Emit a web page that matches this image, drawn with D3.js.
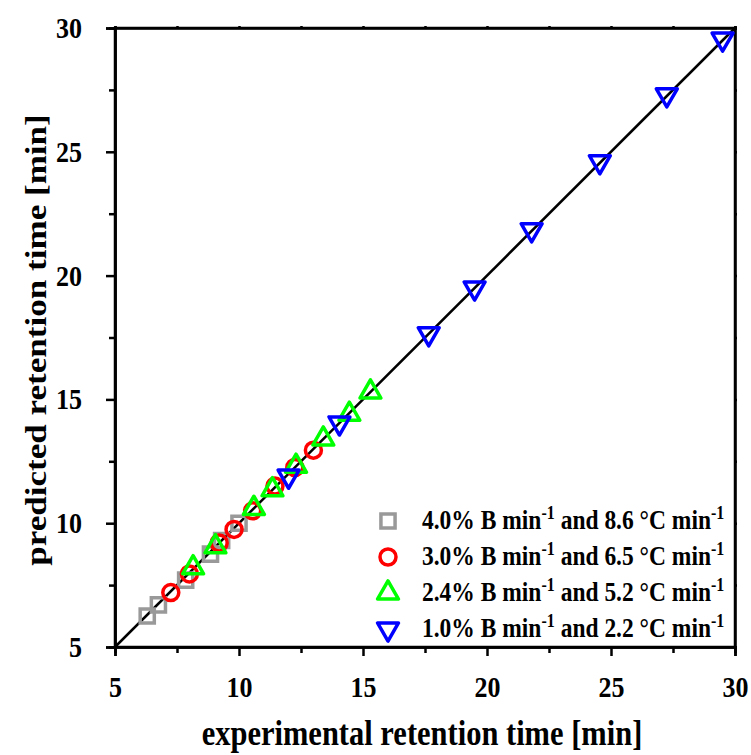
<!DOCTYPE html>
<html>
<head>
<meta charset="utf-8">
<script src="https://cdn.jsdelivr.net/npm/d3@7"></script>
<style>
  html, body { margin: 0; padding: 0; background: #fff; }
  svg text { font-family: "Liberation Serif", "Times New Roman", serif; font-weight: bold; fill: #000; }
</style>
</head>
<body>
<svg id="chart" width="751" height="755"></svg>
<script>
// Experimental vs. predicted retention times for four gradient programs
const seriesNames = [
  { rate: "4.0% B min", temp: " and 8.6 °C min" },
  { rate: "3.0% B min", temp: " and 6.5 °C min" },
  { rate: "2.4% B min", temp: " and 5.2 °C min" },
  { rate: "1.0% B min", temp: " and 2.2 °C min" }
];

const grayExp  = [6.3, 6.75, 7.85, 8.85, 9.3, 10.0];
const grayPred = [6.25, 6.7, 7.7, 8.75, 9.3, 10.0];

const redExp  = [7.25, 8.0, 9.2, 9.8, 10.55, 11.45, 12.25, 13.0];
const redPred = [7.2, 7.95, 9.2, 9.75, 10.5, 11.5, 12.25, 12.95];

const greenExp  = [8.15, 9.05, 10.6, 11.35, 12.3, 13.4, 14.45, 15.3];
const greenPred = [8.2, 9.05, 10.6, 11.35, 12.3, 13.4, 14.4, 15.3];

const blueExp  = [12.0, 14.05, 17.65, 19.5, 21.8, 24.55, 27.25, 29.5];
const bluePred = [11.9, 14.05, 17.65, 19.5, 21.85, 24.6, 27.3, 29.55];

const tickValues = [5, 10, 15, 20, 25, 30];
const minorTicks = [7.5, 12.5, 17.5, 22.5, 27.5];
const identityLine = [5, 30];

// text is drawn slightly tall (vertical stretch)
const stretch = 1.15;

const svg = d3.select("#chart");
const plotL = 115, plotR = 735, plotT = 28, plotB = 647;

const x = d3.scaleLinear().domain([5, 30]).range([plotL, plotR]);
const y = d3.scaleLinear().domain([5, 30]).range([plotB, plotT]);

// frame
svg.append("rect")
  .attr("x", plotL).attr("y", plotT)
  .attr("width", plotR - plotL).attr("height", plotB - plotT)
  .attr("fill", "none").attr("stroke", "#000").attr("stroke-width", 2.5);

// bottom axis
const gx = svg.append("g").attr("transform", `translate(0,${plotB})`)
  .call(d3.axisBottom(x).tickValues(tickValues).tickSize(9).tickFormat(d3.format("d")));
gx.selectAll(".tick text").attr("y", 50 / stretch).attr("dy", 0)
  .attr("transform", `scale(1,${stretch})`);
gx.append("g").call(d3.axisBottom(x).tickValues(minorTicks).tickSize(6).tickFormat(""));
// left axis
const gy = svg.append("g").attr("transform", `translate(${plotL},0)`)
  .call(d3.axisLeft(y).tickValues(tickValues).tickSize(9).tickPadding(24).tickFormat(d3.format("d")));
gy.selectAll(".tick text").attr("transform", `scale(1,${stretch})`);
gy.append("g").call(d3.axisLeft(y).tickValues(minorTicks).tickSize(6).tickFormat(""));
// top and right axes: short ticks, no labels
svg.append("g").attr("transform", `translate(0,${plotT})`)
  .call(d3.axisTop(x).tickValues(tickValues.concat(minorTicks)).tickSize(2).tickFormat(""));
svg.append("g").attr("transform", `translate(${plotR},0)`)
  .call(d3.axisRight(y).tickValues(tickValues.concat(minorTicks)).tickSize(2).tickFormat(""));

svg.selectAll(".domain").attr("stroke", "#000").attr("stroke-width", 2.5);
svg.selectAll(".tick line").attr("stroke", "#000").attr("stroke-width", 2.5);
svg.selectAll(".tick text").attr("font-size", 26).attr("font-family", "Liberation Serif, serif").attr("font-weight", "bold");

// identity line
svg.append("line")
  .attr("x1", x(identityLine[0])).attr("y1", y(identityLine[0]))
  .attr("x2", x(identityLine[1])).attr("y2", y(identityLine[1]))
  .attr("stroke", "#000").attr("stroke-width", 2.5);

const triUp = d3.symbol().type(d3.symbolTriangle).size(190);
const sq = d3.symbol().type(d3.symbolSquare).size(200);

const series = [
  { ex: grayExp, pr: grayPred, color: "#999999", kind: "square" },
  { ex: redExp, pr: redPred, color: "#ff0000", kind: "circle" },
  { ex: greenExp, pr: greenPred, color: "#00ff00", kind: "up" },
  { ex: blueExp, pr: bluePred, color: "#0000ff", kind: "down" }
];

function drawMarker(g, kind, color) {
  if (kind === "circle") {
    g.append("circle").attr("r", 8).attr("fill", "none").attr("stroke", color).attr("stroke-width", 3.5);
  } else if (kind === "square") {
    g.append("path").attr("d", sq()).attr("fill", "none").attr("stroke", color).attr("stroke-width", 3.5);
  } else {
    g.append("path").attr("d", triUp())
      .attr("transform", kind === "down" ? "rotate(180)" : null)
      .attr("fill", "none").attr("stroke", color).attr("stroke-width", 3.5)
      .attr("stroke-linejoin", "round");
  }
}

series.forEach(s => {
  s.ex.forEach((v, i) => {
    const g = svg.append("g").attr("transform", `translate(${x(v)},${y(s.pr[i])})`);
    drawMarker(g, s.kind, s.color);
  });
});

// legend
const legend = svg.append("g");
series.forEach((s, i) => {
  const ly = 521 + i * 36;
  const g = legend.append("g").attr("transform", `translate(388,${ly})`);
  drawMarker(g, s.kind, s.color);
  const t = legend.append("text")
    .attr("transform", `translate(422,${ly + 8}) scale(1,${stretch})`)
    .attr("font-size", 23.5);
  t.append("tspan").text(seriesNames[i].rate);
  t.append("tspan").attr("dy", -9).attr("font-size", 16).text("-1");
  t.append("tspan").attr("dy", 9).text(seriesNames[i].temp);
  t.append("tspan").attr("dy", -9).attr("font-size", 16).text("-1");
});

// axis titles
svg.append("text")
  .attr("transform", `translate(422,745) scale(1,${stretch})`)
  .attr("text-anchor", "middle").attr("font-size", 30.5)
  .text("experimental retention time [min]");
svg.append("text")
  .attr("transform", `translate(46,340) scale(1,${stretch}) rotate(-90)`)
  .attr("text-anchor", "middle").attr("font-size", 30.5)
  .text("predicted retention time [min]");
</script>
</body>
</html>
